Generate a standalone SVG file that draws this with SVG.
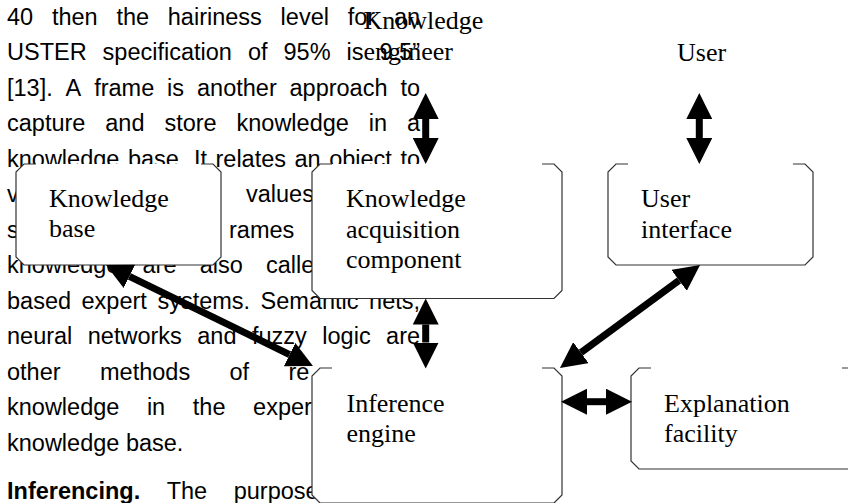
<svg xmlns="http://www.w3.org/2000/svg" width="848" height="503" viewBox="0 0 848 503">
<style>
.b{font-family:"Liberation Sans",Arial,sans-serif;font-size:23.5px;fill:#000}
.bb{font-weight:bold}
.l{font-family:"Liberation Serif","Times New Roman",serif;font-size:26px;fill:#000}
.fill{fill:#fff;stroke:none}
.edge{fill:none;stroke:#333;stroke-width:1.2}
.arr{stroke:#000;stroke-width:7;fill:none;marker-start:url(#head);marker-end:url(#head)}
</style>
<defs>
<marker id="head" markerUnits="userSpaceOnUse" markerWidth="26" markerHeight="26" viewBox="0 0 26 26" refX="0" refY="13" orient="auto-start-reverse">
<path d="M0,0 L26,13 L0,26 Z" fill="#000"/>
</marker>
</defs>
<rect width="848" height="503" fill="#fff"/>
<g id="body-text" class="b">
<text y="24.5"><tspan x="7">40</tspan><tspan x="51.9">then</tspan><tspan x="116.4">the</tspan><tspan x="167.8">hairiness</tspan><tspan x="280.6">level</tspan><tspan x="347.7">for</tspan><tspan x="393.9">an</tspan></text>
<text y="60"><tspan x="7">USTER</tspan><tspan x="102.6">specification</tspan><tspan x="247.9">of</tspan><tspan x="283.5">95%</tspan><tspan x="346.6">is</tspan><tspan x="379.5">9.5”</tspan></text>
<text y="95.5"><tspan x="7">[13].</tspan><tspan x="65.6">A</tspan><tspan x="94.2">frame</tspan><tspan x="167.1">is</tspan><tspan x="197">another</tspan><tspan x="289.5">approach</tspan><tspan x="400.4">to</tspan></text>
<text y="131"><tspan x="7">capture</tspan><tspan x="105.3">and</tspan><tspan x="164.4">store</tspan><tspan x="236.5">knowledge</tspan><tspan x="368.7">in</tspan><tspan x="406.9">a</tspan></text>
<text y="166.5"><tspan x="7">knowledge</tspan><tspan x="127.9">base.</tspan><tspan x="193.9">It</tspan><tspan x="215.5">relates</tspan><tspan x="294.5">an</tspan><tspan x="329.2">object</tspan><tspan x="400.4">to</tspan></text>
<text y="202"><tspan x="7">v</tspan><tspan x="246">values</tspan></text>
<text y="237.5"><tspan x="7">s</tspan><tspan x="229">rames</tspan></text>
<text y="273"><tspan x="7">knowledge</tspan><tspan x="142.5">are</tspan><tspan x="199.7">also</tspan><tspan x="266">calle</tspan></text>
<text y="308.5"><tspan x="7">based</tspan><tspan x="81.5">expert</tspan><tspan x="157.4">systems.</tspan><tspan x="260.6">Semantic</tspan><tspan x="369.1">nets,</tspan></text>
<text y="344"><tspan x="7">neural</tspan><tspan x="87.8">networks</tspan><tspan x="197.3">and</tspan><tspan x="251.9">fuzzy</tspan><tspan x="322.3">logic</tspan><tspan x="386.1">are</tspan></text>
<text y="379.5"><tspan x="7">other</tspan><tspan x="100">methods</tspan><tspan x="229.5">of</tspan><tspan x="288.5">re</tspan></text>
<text y="415"><tspan x="7">knowledge</tspan><tspan x="146.9">in</tspan><tspan x="192.8">the</tspan><tspan x="253.1">exper</tspan></text>
<text x="7" y="450.5">knowledge base.</text>
<text y="499"><tspan x="7" class="bb">Inferencing.</tspan><tspan x="166.7">The</tspan><tspan x="233.7">purpose</tspan></text>
</g>
<g id="knowledge-engineer">
<text class="l" x="363.5" y="29">Knowledge</text>
<text class="l" x="363.5" y="59.5">engineer</text>
</g>
<g id="user">
<text class="l" x="677" y="60.5">User</text>
</g>
<g id="knowledge-base">
<path class="fill" d="M24,164 L213,164 L221,172 L221,257 L213,265 L24,265 L16,257 L16,172 Z"/>
<path class="edge" d="M36,164 L24,164 L16,172 L16,257 L24,265 L213,265 L221,257 L221,172 L213,164 L201,164"/>
<text class="l" x="49" y="206.5">Knowledge</text>
<text class="l" x="49" y="236.5">base</text>
</g>
<g id="knowledge-acquisition">
<path class="fill" d="M320,164 L554,164 L562,172 L562,290.5 L554,298.5 L320,298.5 L312,290.5 L312,172 Z"/>
<path class="edge" d="M332,164 L320,164 L312,172 L312,290.5 L320,298.5 L554,298.5 L562,290.5 L562,172 L554,164 L542,164"/>
<text class="l" x="346" y="207">Knowledge</text>
<text class="l" x="346" y="237.5">acquisition</text>
<text class="l" x="346" y="268">component</text>
</g>
<g id="user-interface">
<path class="fill" d="M616,164 L805,164 L813,172 L813,257 L805,265 L616,265 L608,257 L608,172 Z"/>
<path class="edge" d="M628,164 L616,164 L608,172 L608,257 L616,265 L805,265 L813,257 L813,172 L805,164 L793,164"/>
<text class="l" x="641" y="207">User</text>
<text class="l" x="641" y="237.5">interface</text>
</g>
<g id="inference-engine">
<path class="fill" d="M320,368 L554,368 L562,376 L562,495 L554,503 L320,503 L312,495 L312,376 Z"/>
<path class="edge" d="M332,368 L320,368 L312,376 L312,495 L320,503 L554,503 L562,495 L562,376 L554,368 L542,368"/>
<text class="l" x="346.5" y="411.5">Inference</text>
<text class="l" x="346.5" y="441.5">engine</text>
</g>
<g id="explanation-facility">
<path class="fill" d="M639,368 L854,368 L862,376 L862,461 L854,469 L639,469 L631,461 L631,376 Z"/>
<path class="edge" d="M651,368 L639,368 L631,376 L631,461 L639,469 L854,469 L862,461 L862,376 L854,368 L842,368"/>
<text class="l" x="664" y="411.5">Explanation</text>
<text class="l" x="664" y="441.5">facility</text>
</g>
<g id="connectors">
<line class="arr" x1="425.7" y1="119" x2="425.7" y2="138"/>
<line class="arr" x1="699.3" y1="119" x2="699.3" y2="138"/>
<line class="arr" x1="425.7" y1="324.5" x2="425.7" y2="342.5"/>
<line class="arr" x1="129.4" y1="276.4" x2="289.6" y2="354.6"/>
<line class="arr" x1="580.9" y1="352.6" x2="679.1" y2="280.4"/>
<line class="arr" x1="587" y1="401.7" x2="606" y2="401.7"/>
</g>
</svg>
